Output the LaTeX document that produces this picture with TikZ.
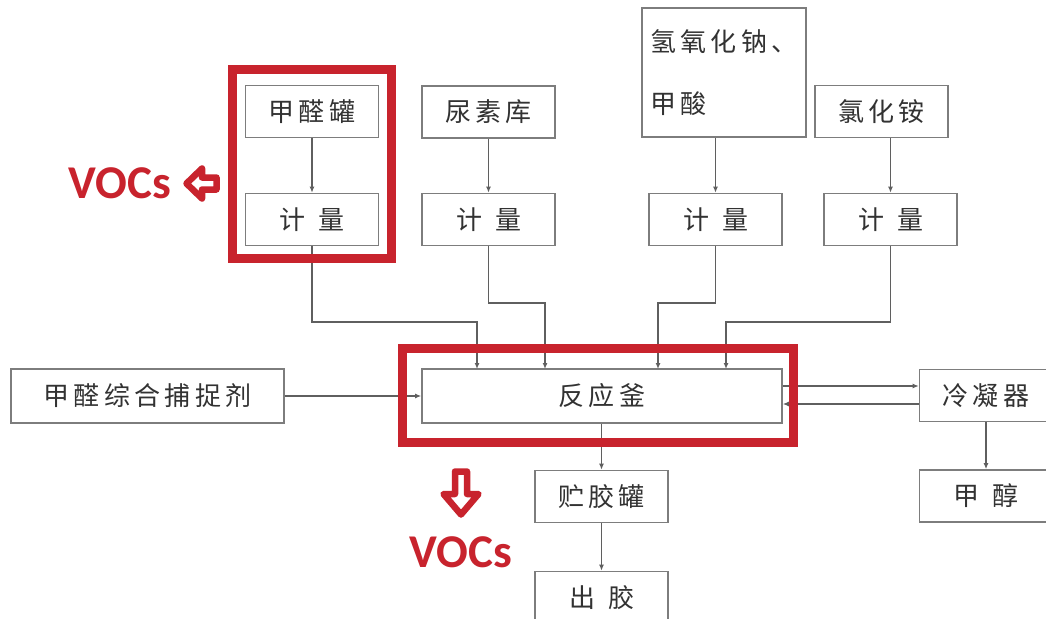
\documentclass[tikz,border=0pt]{standalone}
\usepackage{fontspec}
\usepackage{tikz}
\usetikzlibrary{arrows.meta}
\setmainfont{Noto Sans CJK SC}[LetterSpace=17]
\newfontfamily\vocsfont{Carlito}
\definecolor{vocsred}{RGB}{200,35,45}
\definecolor{boxgray}{RGB}{125,125,125}
\definecolor{linegray}{RGB}{95,95,95}
\definecolor{txtgray}{RGB}{50,50,50}

\begin{document}
\begin{tikzpicture}[x=1pt,y=-1pt,
    box/.style={draw=boxgray,line width=1.6pt,minimum width=133pt,minimum height=52pt,inner sep=0pt,text=txtgray,font=\fontsize{26}{30}\selectfont},
    flow/.style={draw=linegray,line width=1.4pt,-{Latex[length=6pt,width=5pt]}},
    redframe/.style={draw=vocsred,line width=9pt},
    vocsarrow/.style={draw=vocsred,line width=6.5pt,fill=white,line join=round},
    vocs/.style={inner sep=0pt,text=vocsred,font=\vocsfont\bfseries\fontsize{47}{50}\selectfont}]
    \useasboundingbox (0,0) rectangle (1046,618);
    \fill[white] (0,0) rectangle (1046,618);
    \node[box] (jqg) at (312,111.5) {甲醛罐};
    \node[box] (jl1) at (312,219.5) {计\hspace{0.5em}量};
    \node[box] (nsk) at (488.5,112) {尿素库};
    \node[box] (jl2) at (488.5,219.5) {计\hspace{0.5em}量};
    \node[box,minimum width=164pt,minimum height=129pt,align=left,font=\fontsize{26}{62}\selectfont] (qyh) at (724,72.5) {氢氧化钠、\\甲酸};
    \node[box] (jl3) at (715.5,219.5) {计\hspace{0.5em}量};
    \node[box] (lha) at (881.5,111.5) {氯化铵};
    \node[box] (jl4) at (890.5,219.5) {计\hspace{0.5em}量};
    \node[box,minimum width=360pt,minimum height=54pt] (fyf) at (602,396) {反应釜};
    \node[box,minimum width=273pt,minimum height=54pt] (bzj) at (147.5,396) {甲醛综合捕捉剂};
    \node[box] (lnq) at (986,395.5) {冷凝器};
    \node[box] (jc) at (986,496) {甲\hspace{0.5em}醇};
    \node[box] (zjg) at (601.5,496.5) {贮胶罐};
    \node[box] (cj) at (601.5,597.5) {出\hspace{0.5em}胶};
    \coordinate (in1) at (477,369);
    \coordinate (in2) at (545,369);
    \coordinate (in3) at (658,369);
    \coordinate (in4) at (726,369);
    \draw[flow] (jqg) -- (jl1);
    \draw[flow] (nsk) -- (jl2);
    \draw[flow] (jl3 |- qyh.south) -- (jl3.north);
    \draw[flow] (jl4 |- lha.south) -- (jl4.north);
    \draw[flow] (jl1.south) -- (jl1.south |- 0,322) -| (in1);
    \draw[flow] (jl2.south) -- (jl2.south |- 0,303) -| (in2);
    \draw[flow] (jl3.south) -- (jl3.south |- 0,303) -| (in3);
    \draw[flow] (jl4.south) -- (jl4.south |- 0,322) -| (in4);
    \draw[flow] (bzj) -- (fyf);
    \draw[flow] (fyf.east |- 0,386) -- (lnq.west |- 0,386);
    \draw[flow] (lnq.west |- 0,404) -- (fyf.east |- 0,404);
    \draw[flow] (zjg.north |- fyf.south) -- (zjg.north);
    \draw[flow] (zjg) -- (cj);
    \draw[flow] (lnq) -- (jc);
    % VOCs
    \draw[redframe] (232.5,69.5) rectangle (391.5,258);
    \draw[redframe] (402.5,348.5) rectangle (793.5,442.5);
    \draw[vocsarrow] (216.5,177.5) -- (202,177.5) -- (202,168.5) -- (186.5,183.5) -- (202,198.5) -- (202,189.5) -- (216.5,189.5) -- cycle;
    \draw[vocsarrow] (455,471.5) -- (455,494) -- (443.5,494) -- (461,514.5) -- (478.5,494) -- (467,494) -- (467,471.5) -- cycle;
    \node[vocs] (voc1) at (120,183) {VOCs};
    \node[vocs] (voc2) at (461,552) {VOCs};
\end{tikzpicture}
\end{document}
